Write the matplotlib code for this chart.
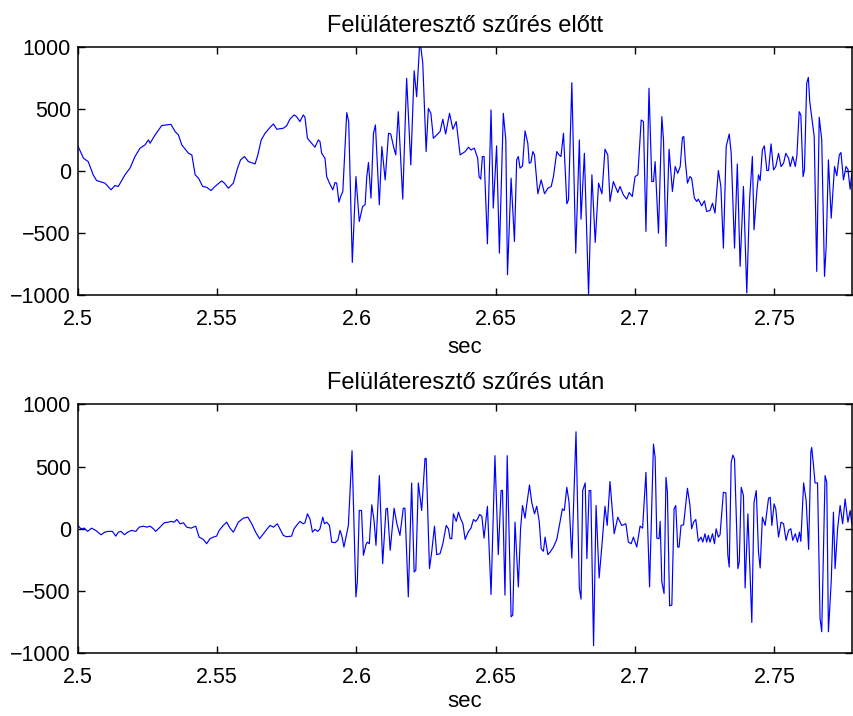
import matplotlib
matplotlib.use("Agg")
import matplotlib.pyplot as plt

plt.rcParams['font.family'] = ['Liberation Sans', 'DejaVu Sans']

# Signal before high-pass filtering (time in s, amplitude)
t_before = [2.5000, 2.5020, 2.5037, 2.5055, 2.5067, 2.5097, 2.5119, 2.5133, 2.5145, 2.5169,
            2.5187, 2.5205, 2.5223, 2.5241, 2.5253, 2.5259, 2.5277, 2.5301, 2.5319, 2.5334,
            2.5349, 2.5361, 2.5373, 2.5397, 2.5409, 2.5421, 2.5433, 2.5448, 2.5462, 2.5478,
            2.5492, 2.5516, 2.5526, 2.5540, 2.5558, 2.5573, 2.5584, 2.5598, 2.5612, 2.5636,
            2.5646, 2.5658, 2.5672,
            2.5690, 2.5702, 2.5714, 2.5737, 2.5749, 2.5761, 2.5776, 2.5785, 2.5797, 2.5809,
            2.5815, 2.5824, 2.5839, 2.5851, 2.5863, 2.5869, 2.5875, 2.5887, 2.5893, 2.5903,
            2.5915, 2.5923, 2.5929, 2.5937, 2.5943, 2.5951, 2.5965, 2.5972, 2.5985, 2.5998,
            2.6010, 2.6022, 2.6031, 2.6037, 2.6043, 2.6052, 2.6061, 2.6068, 2.6082, 2.6091,
            2.6103, 2.6115, 2.6123, 2.6133, 2.6141, 2.6150, 2.6166, 2.6180, 2.6195, 2.6207,
            2.6216, 2.6226, 2.6231, 2.6238, 2.6250, 2.6258, 2.6267, 2.6276, 2.6288, 2.6300,
            2.6310, 2.6320, 2.6334, 2.6346, 2.6358, 2.6372,
            2.6390, 2.6402, 2.6411, 2.6423, 2.6435, 2.6440, 2.6446, 2.6452, 2.6458, 2.6470,
            2.6483, 2.6491, 2.6503, 2.6513, 2.6527, 2.6536, 2.6542, 2.6555, 2.6567, 2.6575,
            2.6581, 2.6587, 2.6596, 2.6605, 2.6615, 2.6620, 2.6626, 2.6633, 2.6639, 2.6651,
            2.6663, 2.6675, 2.6687, 2.6699, 2.6707, 2.6719, 2.6727, 2.6734, 2.6743, 2.6755,
            2.6761, 2.6773, 2.6787, 2.6800, 2.6806, 2.6818, 2.6833, 2.6845, 2.6857, 2.6869,
            2.6881, 2.6892, 2.6902, 2.6910, 2.6922, 2.6938, 2.6946, 2.6958, 2.6970, 2.6979,
            2.6990, 2.7000, 2.7010, 2.7022, 2.7030, 2.7039, 2.7050, 2.7060, 2.7066, 2.7072,
            2.7084, 2.7096,
            2.7102, 2.7111, 2.7122, 2.7134, 2.7144, 2.7153, 2.7162, 2.7170, 2.7175, 2.7180,
            2.7188, 2.7197, 2.7203, 2.7213, 2.7221, 2.7227, 2.7239, 2.7249, 2.7257, 2.7269,
            2.7278, 2.7287, 2.7299, 2.7308, 2.7317, 2.7327, 2.7338, 2.7345, 2.7357, 2.7367,
            2.7377, 2.7389, 2.7401, 2.7411, 2.7421, 2.7427, 2.7437, 2.7443, 2.7449, 2.7457,
            2.7464, 2.7473, 2.7479, 2.7488, 2.7497, 2.7505, 2.7515, 2.7524, 2.7533, 2.7541,
            2.7551, 2.7557, 2.7566, 2.7575, 2.7581, 2.7589, 2.7595, 2.7603, 2.7608, 2.7616,
            2.7622, 2.7627, 2.7634, 2.7643, 2.7652, 2.7661, 2.7670, 2.7680, 2.7686, 2.7694,
            2.7704, 2.7716, 2.7724, 2.7733, 2.7739, 2.7748, 2.7757, 2.7764, 2.7772, 2.7778,
            2.7786]
v_before = [202, 102, 75, -32, -78, -99, -153, -118, -126, -32,
            22, 116, 183, 210, 250, 223, 290, 366, 371, 376,
            317, 290, 210, 142, 129, -32, -59, -126, -132, -159,
            -126, -81, -99, -140, -99, 22, 89, 116, 75, 56,
            129, 250, 304,
            352, 379, 336, 344, 363, 417, 452, 438, 398, 452,
            433, 263, 223, 191, 250, 237, 142, 102, -46, -99,
            -153, -94, -99, -253, -207, -167, 470, 398, -739, -46,
            -409, -288, -274, -46, 67, -220, 304, 371, -274, 196,
            -73, 304, 298, 196, 129, 478, -228, 747, 48, 809,
            599, 997, 1000, 868, 156, 505, 465, 263, 290, 317,
            417, 298, 465, 336, 398, 129,
            156, 191, 169, 183, 102, -46, -67, 116, 116, -589,
            492, -301, 202, -664, 465, 250, -839, -59, -570, 89,
            116, 22, 40, 323, 223, 62, 67, 156, 129, -185,
            -73, -185, -140, -126, -46, 156, 129, 116, 304, -266,
            -234, 712, -664, 250, -390, 142, -1000, -32, -578, -99,
            -185, 175, 129, -247, -86, -175, -126, -194, -228, -175,
            -207, -46, -32, 411, 398, -489, 667, -86, -86, 75,
            -503, 438,
            250, -610, 175, -167, 35, -19, 35, 271, 277, 89,
            -99, -46, -59, -220, -247, -228, -282, -242, -328, -320,
            -261, -341, 3, -126, -624, 196, 298, 142, -624, 56,
            -771, -126, -986, -234, 116, -476, -167, -32, -78, 169,
            202, 3, 3, 218, 8, 35, 142, 35, 62, 142,
            102, 35, 116, 35, 129, 478, 452, -46, 8, 707,
            755, 559, 438, 277, -812, 433, 250, -852, -610, 89,
            -382, 35, -40, 129, 148, -73, 35, 13, -148, -19,
            -13]

# Signal after high-pass filtering
t_after = [2.5000, 2.5011, 2.5023, 2.5035, 2.5049, 2.5064, 2.5083, 2.5097, 2.5109, 2.5124,
           2.5136, 2.5145, 2.5155, 2.5167, 2.5179, 2.5193, 2.5208, 2.5220, 2.5235, 2.5247,
           2.5259, 2.5271, 2.5279, 2.5289, 2.5301, 2.5310, 2.5325, 2.5334, 2.5346, 2.5355,
           2.5367, 2.5379, 2.5391, 2.5406, 2.5423, 2.5435, 2.5450, 2.5462, 2.5474, 2.5486,
           2.5498, 2.5507, 2.5522, 2.5534, 2.5546, 2.5558, 2.5576, 2.5594, 2.5610, 2.5624,
           2.5638, 2.5652, 2.5666, 2.5678,
           2.5690, 2.5702, 2.5716, 2.5726, 2.5737, 2.5749, 2.5767, 2.5776, 2.5785, 2.5797,
           2.5809, 2.5815, 2.5824, 2.5833, 2.5842, 2.5851, 2.5861, 2.5869, 2.5879, 2.5885,
           2.5893, 2.5903, 2.5911, 2.5923, 2.5933, 2.5941, 2.5947, 2.5955, 2.5971, 2.5984,
           2.5998, 2.6003, 2.6010, 2.6018, 2.6025, 2.6034, 2.6039, 2.6046, 2.6055, 2.6063,
           2.6070, 2.6082, 2.6094, 2.6106, 2.6111, 2.6121, 2.6127, 2.6135, 2.6145, 2.6156,
           2.6168, 2.6174, 2.6186, 2.6198, 2.6207, 2.6213, 2.6222, 2.6234, 2.6246, 2.6250,
           2.6262, 2.6270, 2.6280, 2.6288, 2.6300, 2.6310, 2.6322, 2.6330, 2.6336, 2.6342,
           2.6348, 2.6358, 2.6366, 2.6374, 2.6382, 2.6390,
           2.6402, 2.6411, 2.6420, 2.6428, 2.6435, 2.6442, 2.6450, 2.6458, 2.6470, 2.6483,
           2.6497, 2.6509, 2.6519, 2.6524, 2.6533, 2.6541, 2.6555, 2.6561, 2.6569, 2.6581,
           2.6589, 2.6596, 2.6605, 2.6611, 2.6621, 2.6629, 2.6639, 2.6647, 2.6656, 2.6663,
           2.6671, 2.6677, 2.6687, 2.6695, 2.6707, 2.6719, 2.6731, 2.6739, 2.6746, 2.6755,
           2.6763, 2.6773, 2.6788, 2.6800, 2.6806, 2.6812, 2.6821, 2.6827, 2.6835, 2.6841,
           2.6851, 2.6860, 2.6871, 2.6881, 2.6892, 2.6900, 2.6910, 2.6925, 2.6938, 2.6952,
           2.6967, 2.6976, 2.6986, 2.6994, 2.7006, 2.7018, 2.7027, 2.7039, 2.7052, 2.7066,
           2.7072,
           2.7078, 2.7086, 2.7090, 2.7096, 2.7104, 2.7111, 2.7116, 2.7124, 2.7132, 2.7140,
           2.7146, 2.7153, 2.7158, 2.7165, 2.7174, 2.7188, 2.7197, 2.7203, 2.7210, 2.7218,
           2.7227, 2.7237, 2.7243, 2.7251, 2.7257, 2.7263, 2.7269, 2.7278, 2.7285, 2.7291,
           2.7299, 2.7305, 2.7317, 2.7326, 2.7333, 2.7338, 2.7345, 2.7351, 2.7357, 2.7369,
           2.7374, 2.7381, 2.7389, 2.7395, 2.7405, 2.7419, 2.7427, 2.7435, 2.7443, 2.7449,
           2.7457, 2.7467, 2.7479, 2.7485, 2.7491, 2.7499, 2.7505, 2.7515, 2.7524, 2.7533,
           2.7542, 2.7551, 2.7559, 2.7566, 2.7575, 2.7583, 2.7590, 2.7595, 2.7605, 2.7614,
           2.7623, 2.7631, 2.7634, 2.7640, 2.7646, 2.7655, 2.7664, 2.7670, 2.7682, 2.7688,
           2.7694, 2.7704, 2.7712, 2.7718, 2.7727, 2.7736, 2.7745, 2.7754, 2.7764, 2.7772,
           2.7778, 2.7787]
v_after = [27, 0, 5, -21, 5, -13, -48, -27, -21, -21,
           -59, -27, -21, -48, -27, -13, -21, 13, 21, 13,
           21, 0, -21, 0, 27, 48, 53, 59, 53, 75,
           40, 48, 13, 5, 21, -67, -85, -120, -80, -67,
           -59, -13, 27, 53, 5, -27, 53, 85, 93, 40,
           -27, -80, -40, -5,
           27, 13, 40, -5, -53, -64, -59, 0, 27, 59,
           40, 48, 120, 80, -27, -5, -21, 0, 93, 40,
           53, 27, -107, -112, -93, -13, -53, -147, 27, 627,
           -547, -427, 147, 147, -213, -128, -107, -120, 192, 67,
           -133, 427, -280, 160, 165, -173, -27, 165, 40, -53,
           165, 165, -547, 368, -347, -333, 368, 147, 565, 565,
           -320, -187, 21, -208, -200, -120, 27, 0, -80, -80,
           120, 59, 133, 80, 40, -85,
           -21, 5, 75, 59, 80, 115, 101, -75, 181, -528,
           587, -208, 307, 309, -533, 587, -707, -693, 53, -467,
           0, 187, 85, 192, 352, 213, 120, 181, 59, -160,
           -181, -67, -208, -187, -147, -85, 59, 160, 147, 333,
           213, -235, 779, -480, -565, 307, 368, -240, 307, 307,
           -939, 187, -395, -133, 181, 27, 379, -40, 93, 27,
           40, -107, -120, -67, -147, 21, 5, 453, -467, 680,
           573,
           -75, -80, 59, -427, -520, 413, 293, -619, -613, 160,
           187, -147, -147, 27, 32, 325, 187, 0, 53, 75,
           -101, -67, -107, -40, -107, -53, -107, -40, -120, 0,
           -67, -48, 293, 288, -213, -307, 533, 592, 560, -320,
           -267, 333, 267, -475, 120, -752, 213, 307, -187, -315,
           93, 27, 245, 253, 27, 200, 160, -67, 53, 40,
           -93, -13, 0, -93, -40, -107, -27, -101, 368, 227,
           -165, 619, 653, 520, 368, 368, -720, -827, 427, 373,
           -827, -427, 133, -320, 0, 187, 40, 240, 53, 147,
           40, 67]

titles = ["Felüláteresztő szűrés előtt", "Felüláteresztő szűrés után"]
x_ticks = [2.5, 2.55, 2.6, 2.65, 2.7, 2.75]
x_tick_labels = ["2.5", "2.55", "2.6", "2.65", "2.7", "2.75"]
y_ticks = [-1000, -500, 0, 500, 1000]

fig = plt.figure(figsize=(8.54, 7.16), dpi=100)
ax_top = fig.add_axes([0.0912, 0.5884, 0.9069, 0.3459])
ax_bot = fig.add_axes([0.0912, 0.0876, 0.9069, 0.3478])

for axis, t, v, title, lpad in [(ax_top, t_before, v_before, titles[0], 5),
                                (ax_bot, t_after, v_after, titles[1], 2)]:
    axis.plot(t, v, color='#0000ff', linewidth=0.85)
    axis.set_xlim(2.5, 2.778)
    axis.set_ylim(-1000, 1000)
    axis.set_xticks(x_ticks)
    axis.set_xticklabels(x_tick_labels)
    axis.set_yticks(y_ticks)
    axis.tick_params(direction='in', top=True, right=True, length=5, width=1,
                     labelsize=15.5)
    axis.tick_params(axis='x', pad=10)
    axis.tick_params(axis='y', pad=5)
    for spine in axis.spines.values():
        spine.set_linewidth(1.1)
    axis.set_title(title, fontsize=17, pad=11)
    axis.set_xlabel("sec", fontsize=16, labelpad=lpad)

fig.savefig("out.png", dpi=100)
